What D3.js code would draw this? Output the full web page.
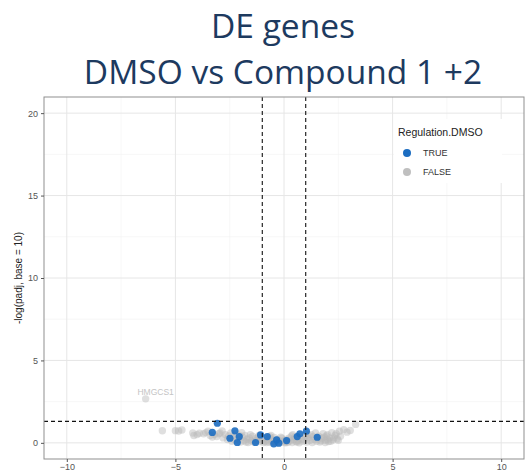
<!DOCTYPE html>
<html>
<head>
<meta charset="utf-8">
<script src="https://cdn.jsdelivr.net/npm/d3@7"></script>
<style>
  body { margin: 0; background: #fff; }
  svg { display: block; font-family: "Liberation Sans", Arial, sans-serif; }
</style>
</head>
<body>
<svg id="chart" width="526" height="471"></svg>
<script>
// titles and legend text
var titleLines = ["DE genes", "DMSO vs Compound 1 +2"];
var yLabel = "-log(padj, base = 10)";
var legendTitle = "Regulation.DMSO";
var legendKeys = ["TRUE", "FALSE"];

// axis ticks
var xTicks = [-10, -5, 0, 5, 10];
var yTicks = [0, 5, 10, 15, 20];
var fcCut = [-1, 1];
var padjCut = 1.301;

// log2 fold change / -log10(padj)
var trueX = [-3.07, -3.30, -2.26, -2.06, -2.49, -2.15, -1.08, -0.77, -1.31, -0.34, -0.24, 0.12, 0.61, 0.73, 1.03, 1.53, -0.47];
var trueY = [1.19, 0.63, 0.73, 0.38, 0.28, 0.02, 0.48, 0.38, 0.02, 0.18, -0.02, 0.14, 0.38, 0.55, 0.71, 0.34, -0.06];

var falseX = [-5.6, -5.0, -4.85, -4.7, -4.2, -4.15, -4.0, -3.9,
  -3.7, -3.5, -3.4, -3.2, -3.1, -2.95, -2.8, -2.7, -2.6, -2.55,
  -2.4, -2.35, -2.2, -2.1, -2.0, -1.9, -1.85, -1.8, -1.7, -1.65, -1.6, -1.5, -1.45, -1.4, -1.3, -1.25, -1.2, -1.1, -1.05,
  -0.95, -0.9, -0.85, -0.75, -0.7, -0.6, -0.55, -0.5, -0.45, -0.4, -0.3, -0.25, -0.2, -0.1, -0.05, 0.0, 0.05, 0.12, 0.2, 0.25, 0.3, 0.38, 0.45, 0.5, 0.55, 0.65, 0.7, 0.8, 0.85, 0.95,
  1.05, 1.1, 1.2, 1.25, 1.3, 1.4, 1.45, 1.5, 1.6, 1.65, 1.75, 1.8, 1.9, 1.95, 2.05, 2.1, 2.2, 2.25, 2.35, 2.45, 2.55, 2.6, 2.75, 2.9, 3.05, 3.3,
  -3.6, -3.3, -3.0, -2.85, -2.45, -2.25, -2.05, -1.95, -1.75, -1.55, -1.35, -1.15, -0.8, -0.65, -0.35, -0.15, 0.08, 0.35, 0.6, 0.9, 1.15, 1.35, 1.55, 1.7, 1.85, 2.0, 2.15, 2.3, 2.4, 2.5, -2.3, -1.0, 0.15, 1.0, 2.0, -0.6, 0.4, 1.9,
  -6.37];
var falseY = [0.73, 0.74, 0.72, 0.78, 0.6, 0.45, 0.5, 0.58,
  0.55, 0.7, 0.45, 0.5, 0.38, 0.6, 0.3, 0.5, 0.2, 0.42,
  0.1, 0.3, 0.55, 0.2, 0.05, 0.35, 0.12, 0.45, 0.22, 0.02, 0.3, 0.12, 0.4, 0.05, 0.25, 0.15, 0.35, 0.08, 0.2,
  0.02, 0.3, 0.1, 0.18, 0.05, 0.25, 0.0, 0.12, 0.32, 0.06, 0.2, 0.0, 0.1, 0.28, 0.05, 0.15, 0.0, 0.22, 0.06, 0.3, 0.12, 0.02, 0.2, 0.35, 0.08, 0.15, 0.0, 0.25, 0.1, 0.4,
  0.05, 0.3, 0.15, 0.5, 0.02, 0.22, 0.6, 0.1, 0.4, 0.05, 0.28, 0.55, 0.15, 0.42, 0.08, 0.3, 0.62, 0.18, 0.45, 0.25, 0.7, 0.4, 0.8, 0.65, 0.75, 1.12,
  0.62, 0.35, 0.55, 0.72, 0.6, 0.15, 0.45, 0.62, 0.05, 0.5, 0.1, 0.45, 0.02, 0.38, 0.1, 0.35, 0.08, 0.42, 0.05, 0.18, 0.45, 0.38, 0.25, 0.12, 0.35, 0.5, 0.1, 0.3, 0.55, 0.15, 0.45, 0.12, 0.02, 0.5, 0.2, 0.45, 0.5, 0.02,
  2.67];

var labelled = [{ gene: "HMGCS1", x: -6.37, y: 2.67 }];

var blue = "#1c6dc1", grey = "#b8b8b8";

var svg = d3.select("#chart");
var panel = { left: 44, right: 524, top: 97, bottom: 459 };

var x = d3.scaleLinear().domain([-11.05, 11.05]).range([panel.left, panel.right]);
var y = d3.scaleLinear().domain([-0.98, 20.98]).range([panel.bottom, panel.top]);

// title
svg.selectAll("text.title").data(titleLines).enter().append("text")
  .attr("class", "title")
  .attr("x", 283)
  .attr("y", function(d, i) { return 38 + i * 46; })
  .attr("text-anchor", "middle")
  .style("font-family", "'Open Sans', sans-serif")
  .style("font-size", "33.5px")
  .style("fill", "#1d3a5f")
  .text(function(d) { return d; });

// panel background + grid
svg.append("rect").attr("x", panel.left).attr("y", panel.top)
  .attr("width", panel.right - panel.left).attr("height", panel.bottom - panel.top)
  .attr("fill", "#fff");

var xMinor = xTicks.slice(0, -1).map(function(d) { return d + 2.5; });
var yMinor = yTicks.slice(0, -1).map(function(d) { return d + 2.5; });

var g = svg.append("g");
g.selectAll("line.vminor").data(xMinor).enter().append("line")
  .attr("x1", x).attr("x2", x).attr("y1", panel.top).attr("y2", panel.bottom)
  .attr("stroke", "#f2f2f2").attr("stroke-width", 0.6);
g.selectAll("line.hminor").data(yMinor).enter().append("line")
  .attr("y1", y).attr("y2", y).attr("x1", panel.left).attr("x2", panel.right)
  .attr("stroke", "#f2f2f2").attr("stroke-width", 0.6);
g.selectAll("line.vmajor").data(xTicks).enter().append("line")
  .attr("x1", x).attr("x2", x).attr("y1", panel.top).attr("y2", panel.bottom)
  .attr("stroke", "#e6e6e6").attr("stroke-width", 1);
g.selectAll("line.hmajor").data(yTicks).enter().append("line")
  .attr("y1", y).attr("y2", y).attr("x1", panel.left).attr("x2", panel.right)
  .attr("stroke", "#e6e6e6").attr("stroke-width", 1);

// points
var falsePts = falseX.map(function(v, i) { return { x: v, y: falseY[i] }; });
var truePts = trueX.map(function(v, i) { return { x: v, y: trueY[i] }; });

svg.append("g").selectAll("circle").data(falsePts).enter().append("circle")
  .attr("cx", function(d) { return x(d.x); })
  .attr("cy", function(d) { return y(d.y); })
  .attr("r", 3.7)
  .attr("fill", grey).attr("fill-opacity", 0.45);

svg.append("g").selectAll("circle").data(truePts).enter().append("circle")
  .attr("cx", function(d) { return x(d.x); })
  .attr("cy", function(d) { return y(d.y); })
  .attr("r", 3.6)
  .attr("fill", blue).attr("fill-opacity", 0.9);

// gene label
svg.selectAll("text.gene").data(labelled).enter().append("text")
  .attr("class", "gene")
  .attr("x", function(d) { return x(d.x) + 10; })
  .attr("y", function(d) { return y(d.y) - 4; })
  .attr("text-anchor", "middle")
  .style("font-size", "8.5px").style("fill", "#c4c4c4")
  .text(function(d) { return d.gene; });

// cutoff lines
svg.selectAll("line.vcut").data(fcCut).enter().append("line")
  .attr("x1", x).attr("x2", x).attr("y1", panel.top).attr("y2", panel.bottom)
  .attr("stroke", "#111").attr("stroke-width", 1.1).attr("stroke-dasharray", "4,3");
svg.append("line")
  .attr("x1", panel.left).attr("x2", panel.right).attr("y1", y(padjCut)).attr("y2", y(padjCut))
  .attr("stroke", "#111").attr("stroke-width", 1.1).attr("stroke-dasharray", "4,3");

// border
svg.append("rect").attr("x", panel.left).attr("y", panel.top)
  .attr("width", panel.right - panel.left).attr("height", panel.bottom - panel.top)
  .attr("fill", "none").attr("stroke", "#8f8f8f").attr("stroke-width", 1);

// axes
var xAxis = svg.append("g").attr("transform", "translate(0," + panel.bottom + ")")
  .call(d3.axisBottom(x).tickValues(xTicks).tickSize(3).tickPadding(2));
var yAxis = svg.append("g").attr("transform", "translate(" + panel.left + ",0)")
  .call(d3.axisLeft(y).tickValues(yTicks).tickSize(3).tickPadding(3));
[xAxis, yAxis].forEach(function(a) {
  a.select(".domain").remove();
  a.selectAll(".tick line").attr("stroke", "#555");
  a.selectAll(".tick text").style("font-size", "9px").style("fill", "#555")
    .style("font-family", "'Liberation Sans', Arial, sans-serif");
});

svg.append("text")
  .attr("transform", "translate(22," + (panel.top + panel.bottom) / 2 + ") rotate(-90)")
  .attr("text-anchor", "middle")
  .style("font-size", "10px").style("fill", "#222")
  .text(yLabel);

// legend
var lg = svg.append("g").attr("transform", "translate(394,119)");
lg.append("rect").attr("width", 108).attr("height", 64).attr("fill", "#fff");
lg.append("text").attr("x", 4).attr("y", 17)
  .style("font-size", "10.5px").style("fill", "#222").text(legendTitle);
var keys = lg.selectAll("g.key").data(legendKeys).enter().append("g")
  .attr("transform", function(d, i) { return "translate(13," + (34 + i * 19) + ")"; });
keys.append("circle").attr("r", 4)
  .attr("fill", function(d) { return d === "TRUE" ? blue : grey; })
  .attr("fill-opacity", function(d) { return d === "TRUE" ? 1 : 0.9; });
keys.append("text").attr("x", 16).attr("dy", "0.35em")
  .style("font-size", "9px").style("fill", "#333").text(function(d) { return d; });
</script>
</body>
</html>
